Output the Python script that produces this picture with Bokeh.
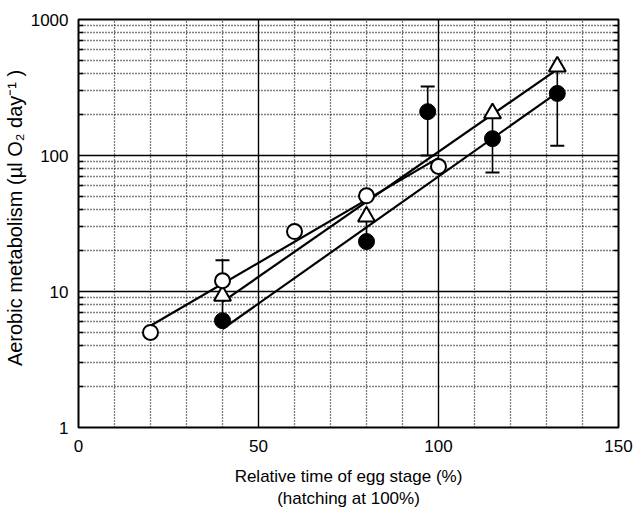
from bokeh.plotting import figure
from bokeh.models import FixedTicker, LogAxis, BasicTickFormatter
from bokeh.embed import file_html
from bokeh.resources import INLINE

# ---- data ----
x_open = [20, 40, 60, 80, 100]
y_open = [5.0, 12.0, 27.6, 50.5, 83.0]

x_tri = [40, 80, 115, 133]
y_tri = [9.3, 35.5, 204, 450]

x_fill = [40, 80, 97, 115, 133]
y_fill = [6.1, 23.3, 210, 133, 286]

# fitted regression lines (end points)
fit_open_x = [20, 100]
fit_open_y = [5.6, 96]
fit_tri_x = [40, 133]
fit_tri_y = [8.4, 430]
fit_fill_x = [40, 133]
fit_fill_y = [5.3, 290]

# error bars (x, low, high) and visible caps
err_x = [40, 40, 80, 97, 115, 133]
err_lo = [12.0, 6.1, 23.3, 100, 75, 118]
err_hi = [17.0, 9.3, 35.5, 321, 204, 450]
cap_x = [40, 97, 97, 115, 133]
cap_y = [17.0, 321, 100, 75, 118]

x_major = [0, 50, 100, 150]
x_minor = [10, 20, 30, 40, 60, 70, 80, 90, 110, 120, 130, 140]
y_major = [1, 10, 100, 1000]
y_minor = [m * d for d in (1, 10, 100) for m in range(2, 10)]
y_labels = {1: "1", 10: "10", 100: "100", 1000: "1000"}

FONT = "Liberation Sans"

p = figure(frame_width=540, frame_height=408,
           y_axis_type="log", x_range=(0, 150), y_range=(1, 1000),
           output_backend="svg", toolbar_location=None,
           min_border_left=76, min_border_top=19, min_border_right=15,
           min_border_bottom=79)
p.background_fill_color = "white"
p.border_fill_color = "white"
p.outline_line_color = "black"
p.outline_line_width = 2

xt = FixedTicker(ticks=x_major, minor_ticks=x_minor)
yt = FixedTicker(ticks=y_major, minor_ticks=y_minor)
p.xaxis.ticker = xt
p.yaxis.ticker = yt
p.xgrid.ticker = xt
p.ygrid.ticker = yt

for g in (p.xgrid, p.ygrid):
    g.grid_line_color = "black"
    g.grid_line_width = 1.4
    g.minor_grid_line_color = "black"
    g.minor_grid_line_width = 1.3
    g.minor_grid_line_dash = "1 2"

p.yaxis.formatter = BasicTickFormatter()
p.yaxis.major_label_overrides = y_labels
for ax in (p.xaxis, p.yaxis):
    ax.axis_line_color = None
    ax.major_tick_in = 0
    ax.major_tick_out = 0
    ax.major_label_text_font = FONT
    ax.major_label_text_font_size = "17px"
    ax.major_label_text_color = "black"
    ax.axis_label_text_font = FONT
    ax.axis_label_text_font_style = "normal"
    ax.axis_label_text_color = "black"

p.xaxis.minor_tick_in = 0
p.xaxis.minor_tick_out = 0
p.xaxis.major_label_standoff = 12
p.xaxis.axis_label = "Relative time of egg stage (%)\n(hatching at 100%)"
p.xaxis.axis_label_text_font_size = "17px"
p.xaxis.axis_label_standoff = 12

p.yaxis.minor_tick_in = 5
p.yaxis.minor_tick_out = 0
p.yaxis.minor_tick_line_color = "black"
p.yaxis.minor_tick_line_width = 1.5
p.yaxis.major_label_standoff = 10
p.yaxis.axis_label = "\u00a0" * 6 + "Aerobic metabolism   (µl  O₂  day⁻¹ )"
p.yaxis.axis_label_text_font_size = "20px"
p.yaxis.axis_label_standoff = 2

ra = LogAxis(ticker=yt, axis_line_color=None, major_tick_in=0, major_tick_out=0,
             minor_tick_in=5, minor_tick_out=0, minor_tick_line_width=1.5,
             minor_tick_line_color="black",
             major_label_text_color=None, major_label_text_font_size="10px")
p.add_layout(ra, "right")

# fitted lines
p.line(fit_open_x, fit_open_y, line_color="black", line_width=2.2)
p.line(fit_tri_x, fit_tri_y, line_color="black", line_width=2.2)
p.line(fit_fill_x, fit_fill_y, line_color="black", line_width=2.2)

# error bars
p.segment(x0=err_x, y0=err_lo, x1=err_x, y1=err_hi, line_color="black", line_width=1.6)
p.scatter(cap_x, cap_y, marker="dash", size=14, line_color="black", line_width=2)

# markers
p.scatter(x_tri, y_tri, marker="triangle", size=17, fill_color="white",
          line_color="black", line_width=2)
p.scatter(x_fill, y_fill, marker="circle", size=16, fill_color="black",
          line_color="black", line_width=1)
p.scatter(x_open, y_open, marker="circle", size=15, fill_color="white",
          line_color="black", line_width=2)

open("out.html", "w").write(file_html(p, INLINE))
